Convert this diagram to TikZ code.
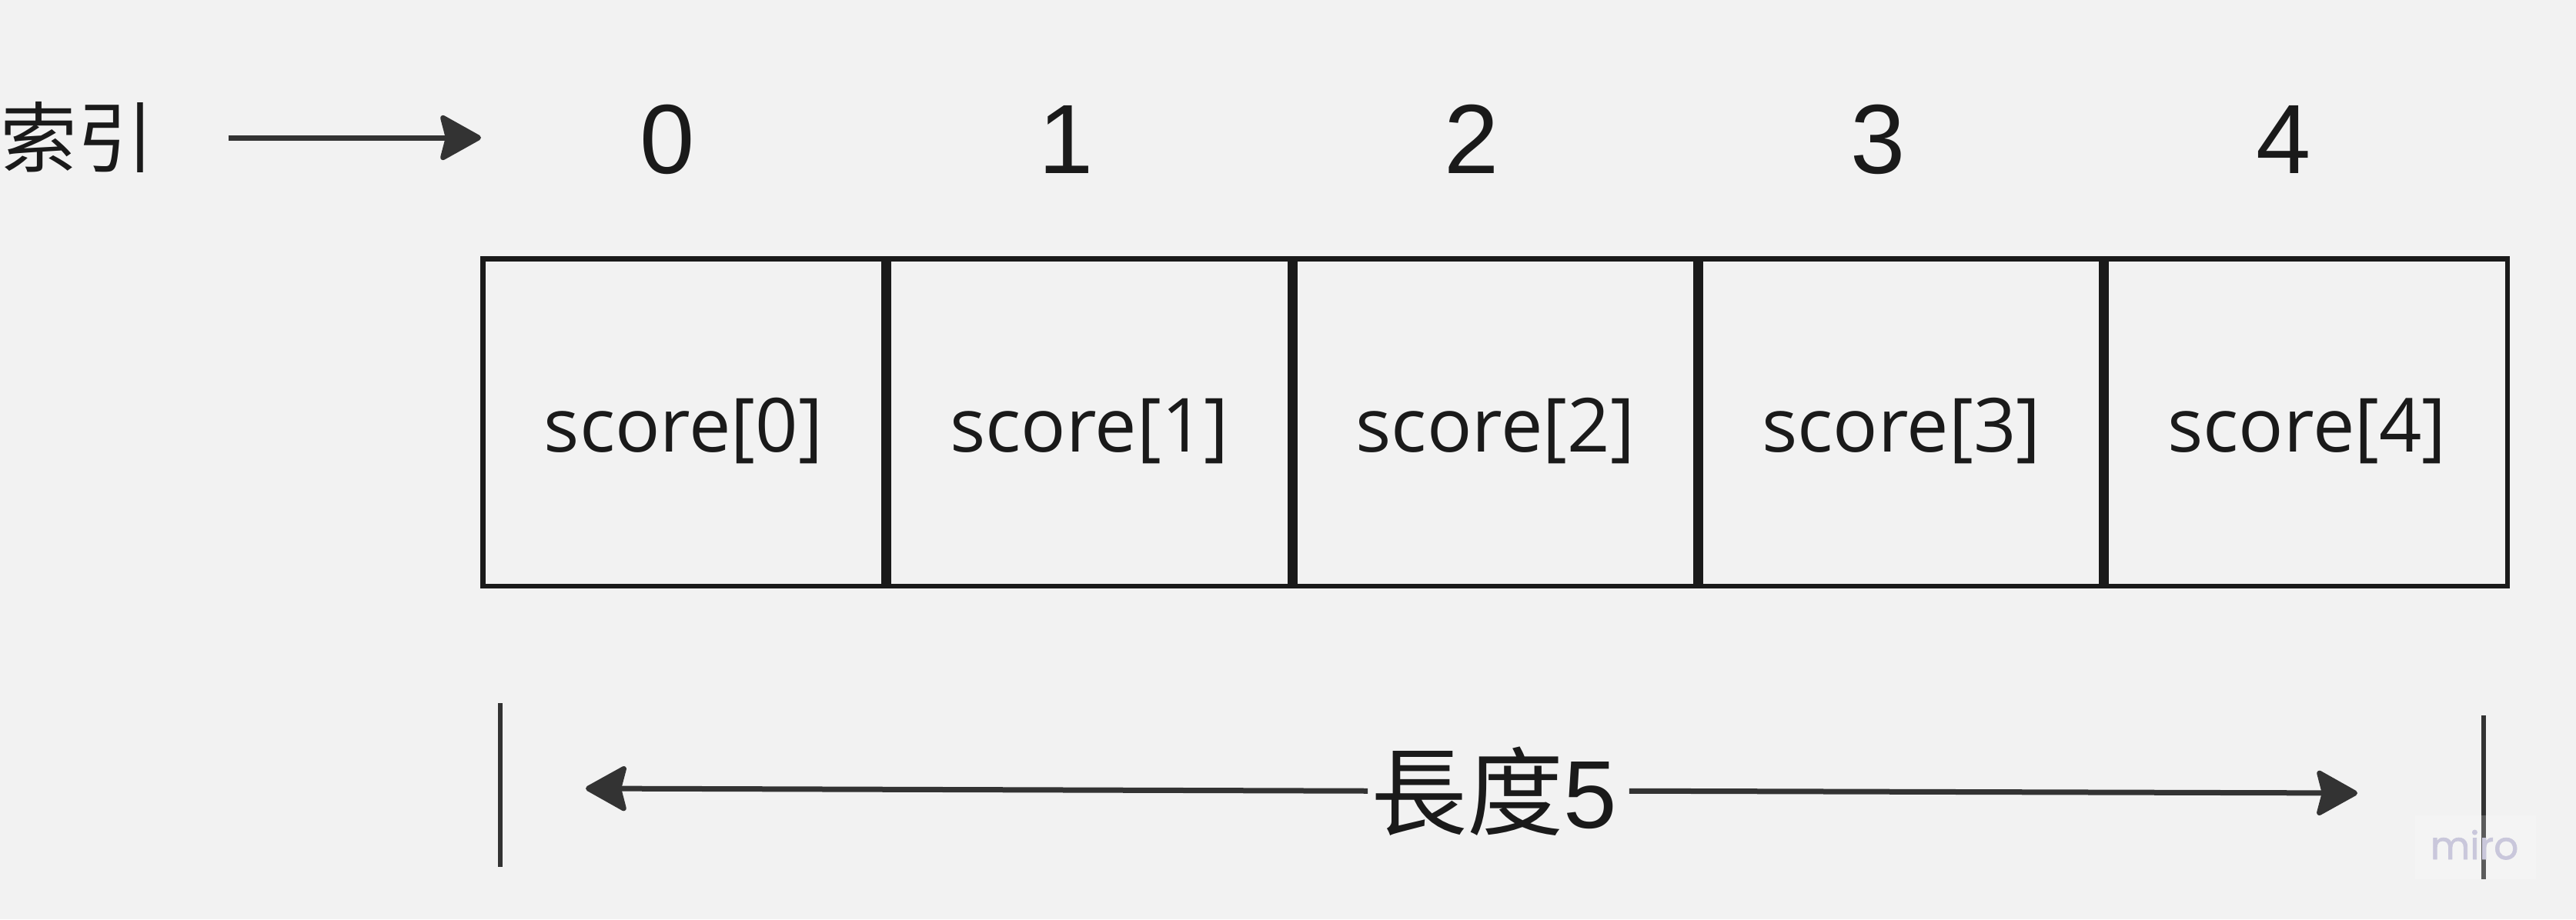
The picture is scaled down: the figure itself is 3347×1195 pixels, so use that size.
\documentclass[tikz,border=0pt]{standalone}
\usepackage{fontspec}
\setmainfont{Open Sans}
\newfontfamily\cjkf{Noto Sans CJK TC}
\newfontfamily\arialf{Liberation Sans}
\newfontfamily\mirof[FakeBold=1.5]{Poppins}
\usetikzlibrary{arrows.meta}
\definecolor{bg}{HTML}{F2F2F2}
\definecolor{ink}{HTML}{1A1A1A}
\definecolor{linec}{HTML}{333333}
\definecolor{miroc}{HTML}{C9C7DB}
\begin{document}
\begin{tikzpicture}[x=1pt,y=-1pt,
  cell/.style={draw=ink, line width=6.5pt, minimum width=521pt, minimum height=425.5pt, inner sep=0pt},
  celltext/.style={text=ink, font=\fontsize{97}{115}\selectfont, anchor=base, inner sep=0pt},
  idxnum/.style={text=ink, font=\arialf\fontsize{128}{150}\selectfont, anchor=base, inner sep=0pt},
  arr/.style={draw=linec, line width=7pt, -{Stealth[length=58pt,width=64pt,inset=8pt,round]}},
  bar/.style={draw=linec, line width=6.5pt}]
\fill[bg] (0,0) rectangle (3347,1195);
\useasboundingbox (0,0) rectangle (3347,1195);
\foreach \i/\x in {0/867,1/1385,2/1912,3/2440,4/2967} {
  \node[cell] (c\i) at ({888+527.4*\i},549) {};
  \node[celltext] (t\i) at ([yshift=-38pt]c\i.center) {score[\i]};
  \node[idxnum] (n\i) at (\x,225) {\i};
}
\node[font=\cjkf\fontsize{100}{115}\selectfont, text=ink, inner sep=0pt] (idx) at (101,178) {索引};
\coordinate (ia) at (297,179);
\coordinate (ib) at (625,179);
\draw[arr] (ia) -- (ib);
\node[font=\cjkf\fontsize{125}{140}\selectfont, text=ink, inner xsep=4pt, inner ysep=0pt, anchor=base] (len) at (1941,1076) {長度{\arialf 5}};
\coordinate (ltip) at (761,1025);
\coordinate (rtip) at (3063,1031);
\draw[arr] (len.west) -- (ltip);
\draw[arr] ([xshift=12pt]len.east) -- (rtip);
\draw[bar] (650,914) -- (650,1127);
\draw[bar] (3227,930) -- (3227,1143);
\fill[white, opacity=0.2] (3138,1060) rectangle (3295,1143);
\node[font=\mirof\fontsize{50}{55}\selectfont, text=miroc, anchor=base, inner sep=0pt] (miro) at (3215,1117) {miro};
\end{tikzpicture}
\end{document}
